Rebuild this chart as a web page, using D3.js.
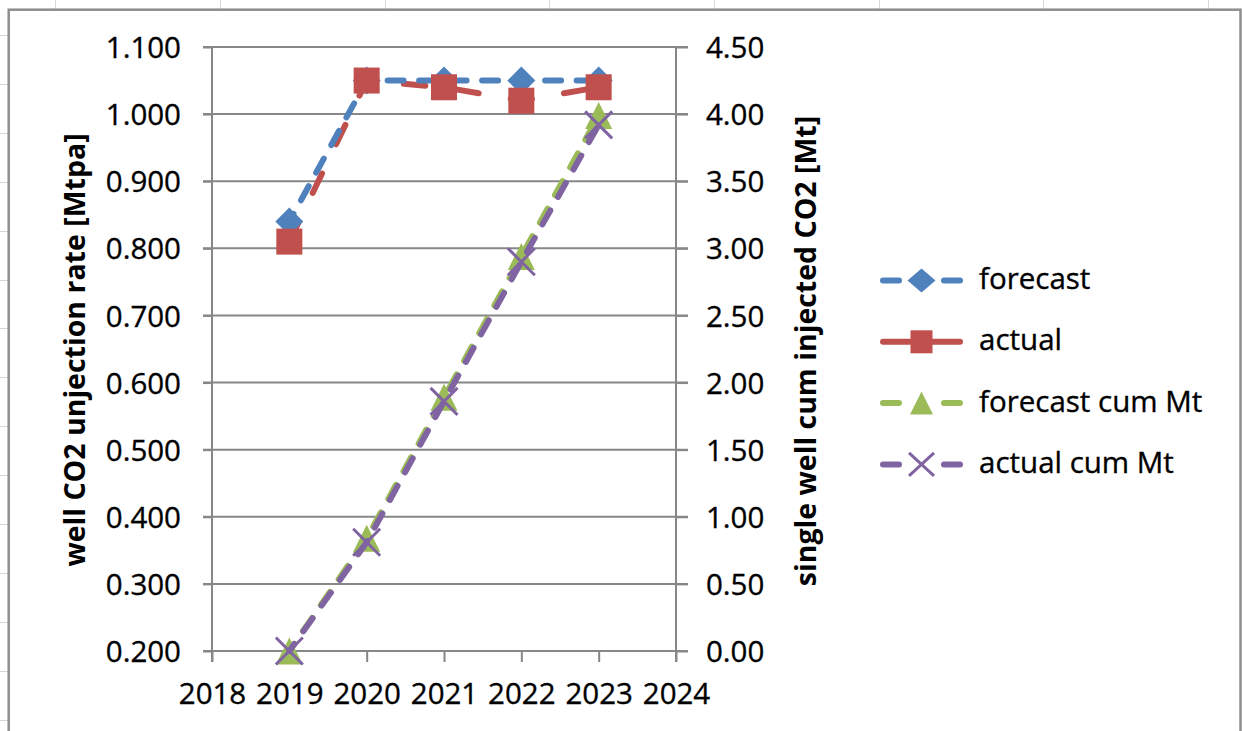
<!DOCTYPE html>
<html><head><meta charset="utf-8">
<script src="https://cdn.jsdelivr.net/npm/d3@7"></script>
<style>
html,body{margin:0;padding:0;background:#fff;overflow:hidden}
svg{display:block}
text{font-family:"Open Sans",sans-serif;fill:#000}
</style>
</head><body>
<svg id="c" width="1242" height="731"></svg>
<script>
// ---------- data ----------
const years = [2019, 2020, 2021, 2022, 2023];
const forecast = [0.84, 1.05, 1.05, 1.05, 1.05];
const actual = [0.81, 1.05, 1.04, 1.02, 1.04];
const forecastCum = [0, 0.84, 1.89, 2.94, 3.99];
const actualCum = [0, 0.81, 1.86, 2.90, 3.92];
const xTicks = [2018, 2019, 2020, 2021, 2022, 2023, 2024];
const leftTicks = [0.2, 0.3, 0.4, 0.5, 0.6, 0.7, 0.8, 0.9, 1.0, 1.1];
const rightTicks = [0, 0.5, 1, 1.5, 2, 2.5, 3, 3.5, 4, 4.5];
const seriesNames = ["forecast", "actual", "forecast cum Mt", "actual cum Mt"];
const leftTitle = "well CO2 unjection rate [Mtpa]";
const rightTitle = "single well cum injected CO2 [Mt]";

const BLUE = "#4F81BD", RED = "#C0504D", GREEN = "#9BBB59", PURPLE = "#8064A2";
const GRID = "#878787";
const FONT = 29.5;
const LW = 6;

const svg = d3.select("#c");

// ---------- spreadsheet background ----------
const sheet = svg.append("g").attr("stroke", "#d6d6d6").attr("stroke-width", 1);
[55, 220, 385, 549, 714, 879, 1043, 1208].forEach(cx => {
  sheet.append("line").attr("x1", cx + 0.5).attr("x2", cx + 0.5).attr("y1", 0).attr("y2", 9);
});
for (let k = 0; k < 15; k++) {
  const ry = Math.round(35 + 48.9 * k) + 0.5;
  sheet.append("line").attr("x1", 0).attr("x2", 8).attr("y1", ry).attr("y2", ry);
}

// chart area
svg.append("rect").attr("x", 8.7).attr("y", 9.7).attr("width", 1231.8).attr("height", 760)
  .attr("fill", "#fff").attr("stroke", "#8e8e8e").attr("stroke-width", 2.5);

// ---------- scales ----------
const x = d3.scaleLinear().domain([2018, 2024]).range([212, 676]);
const yL = d3.scaleLinear().domain([0.2, 1.1]).range([651, 47]);
const yR = d3.scaleLinear().domain([0, 4.5]).range([651, 47]);

// gridlines (with tick stubs on both sides)
const grid = svg.append("g");
grid.selectAll("line").data(leftTicks).join("line")
  .attr("x1", 203).attr("x2", 688)
  .attr("y1", d => yL(d)).attr("y2", d => yL(d))
  .attr("stroke", GRID).attr("stroke-width", 2);

// vertical axis lines
[x.range()[0], x.range()[1]].forEach(ax => {
  svg.append("line").attr("x1", ax).attr("x2", ax).attr("y1", yL.range()[1]).attr("y2", 662)
    .attr("stroke", GRID).attr("stroke-width", 2);
});

// axes via d3
const gL = svg.append("g").attr("transform", "translate(212,0)")
  .call(d3.axisLeft(yL).tickValues(leftTicks).tickFormat(d3.format(".3f")).tickSizeInner(9).tickSizeOuter(0).tickPadding(22));
const gR = svg.append("g").attr("transform", "translate(676,0)")
  .call(d3.axisRight(yR).tickValues(rightTicks).tickFormat(d3.format(".2f")).tickSizeInner(12).tickSizeOuter(0).tickPadding(18));
const gB = svg.append("g").attr("transform", "translate(0,651)")
  .call(d3.axisBottom(x).tickValues(xTicks).tickFormat(d3.format("d")).tickSizeInner(11).tickSizeOuter(0).tickPadding(22));
[gL, gR, gB].forEach(g => {
  g.attr("font-family", '"Open Sans", sans-serif').attr("font-size", FONT);
  g.select(".domain").remove();
  g.selectAll(".tick line").attr("stroke", GRID).attr("stroke-width", 2);
  g.selectAll(".tick text").attr("fill", "#000").attr("stroke", "#000").attr("stroke-width", 0.35);
});
gB.selectAll(".tick text").attr("dy", null).attr("y", 53);
gL.selectAll(".tick text").attr("dy", "0.36em");
gR.selectAll(".tick text").attr("dy", "0.36em");

// axis titles
svg.append("text").attr("transform", "translate(85,350) rotate(-90)")
  .attr("text-anchor", "middle").attr("font-weight", "bold").attr("font-size", 28.5).text(leftTitle);
svg.append("text").attr("transform", "translate(816,351) rotate(-90)")
  .attr("text-anchor", "middle").attr("font-weight", "bold").attr("font-size", 28.5).text(rightTitle);

// ---------- series ----------
const ptsF = years.map((yv, i) => [yv, forecast[i]]);
const ptsA = years.map((yv, i) => [yv, actual[i]]);
const ptsFC = years.map((yv, i) => [yv, forecastCum[i]]);
const ptsAC = years.map((yv, i) => [yv, actualCum[i]]);
const lineL = d3.line().x(d => x(d[0])).y(d => yL(d[1]));
const lineR = d3.line().x(d => x(d[0])).y(d => yR(d[1]));

function drawLine(pts, gen, color, dash, offset) {
  svg.append("path").attr("d", gen(pts)).attr("fill", "none")
    .attr("stroke", color).attr("stroke-width", LW)
    .attr("stroke-linecap", "round").attr("stroke-linejoin", "round")
    .attr("stroke-dasharray", dash).attr("stroke-dashoffset", offset);
}
const diamond = (w, h) => `M0,${-h/2}L${w/2},0L0,${h/2}L${-w/2},0Z`;
const tri = (w, h) => `M0,${-h/2}L${w/2},${h/2}L${-w/2},${h/2}Z`;
function markers(pts, sc, kind, color, s) {
  const g = svg.append("g");
  pts.forEach(p => drawMarker(g, x(p[0]), sc(p[1]), kind, color, s));
}
function drawMarker(g, cx, cy, kind, color, s) {
  if (kind === "diamond") {
    g.append("path").attr("d", diamond(s[0], s[1])).attr("transform", `translate(${cx},${cy})`).attr("fill", color);
  } else if (kind === "square") {
    g.append("rect").attr("x", cx - s[0]/2).attr("y", cy - s[1]/2).attr("width", s[0]).attr("height", s[1]).attr("fill", color);
  } else if (kind === "tri") {
    g.append("path").attr("d", tri(s[0], s[1])).attr("transform", `translate(${cx},${cy})`).attr("fill", color);
  } else {
    const a = s[0]/2, b = s[1]/2;
    g.append("path").attr("d", `M${-a},${-b}L${a},${b}M${a},${-b}L${-a},${b}`)
      .attr("transform", `translate(${cx},${cy})`).attr("stroke", color).attr("stroke-width", 3).attr("fill", "none");
  }
}

drawLine(ptsA, lineL, RED, "21.5,32.5", 0);
drawLine(ptsF, lineL, BLUE, "16,15.5", 7.3);
markers(ptsF, yL, "diamond", BLUE, [28, 28]);
markers(ptsA, yL, "square", RED, [26, 26]);
drawLine(ptsFC, lineR, GREEN, "16,15.5", 7.3);
markers(ptsFC, yR, "tri", GREEN, [27, 27]);
drawLine(ptsAC, lineR, PURPLE, "16,15.5", 7.3);
markers(ptsAC, yR, "x", PURPLE, [27, 27]);

// ---------- legend ----------
const legendKinds = ["diamond", "square", "tri", "x"];
const legendColors = [BLUE, RED, GREEN, PURPLE];
const legendSizes = [[28, 24], [22, 23], [23, 23], [25, 23]];
const lg = svg.append("g");
seriesNames.forEach((name, i) => {
  const base = 289 + 61.3 * i;
  const ly = base - 8.5;
  const ln = lg.append("line").attr("x1", 883).attr("x2", 960).attr("y1", ly).attr("y2", ly)
    .attr("stroke", legendColors[i]).attr("stroke-width", LW).attr("stroke-linecap", "round");
  if (i !== 1) ln.attr("stroke-dasharray", "16,45");
  drawMarker(lg, 921.5, ly, legendKinds[i], legendColors[i], legendSizes[i]);
  lg.append("text").attr("x", 979).attr("y", base).attr("font-size", FONT)
    .attr("stroke", "#000").attr("stroke-width", 0.35).text(name);
});
</script>
</body></html>
